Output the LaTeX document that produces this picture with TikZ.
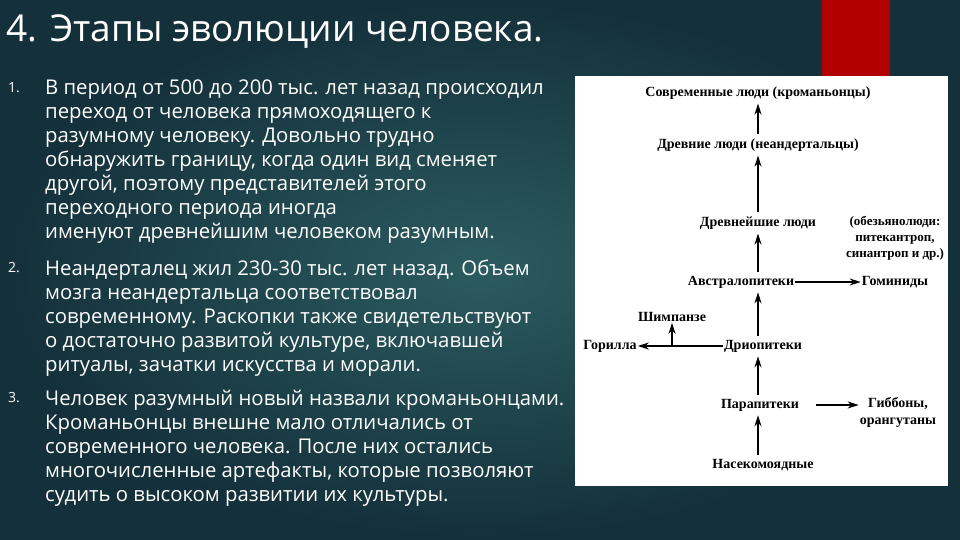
\documentclass[tikz,border=0pt]{standalone}
\usepackage{fontspec}
\setmainfont{Open Sans}
\newfontfamily\dserif{Liberation Serif}
\usetikzlibrary{arrows.meta}
\begin{document}
\begin{tikzpicture}[x=1pt,y=1pt,
  dlab/.style={font=\dserif\bfseries\fontsize{14}{16}\selectfont,inner sep=1pt,align=center},
  para/.style={anchor=north west,text=white,font=\fontsize{20.3}{24}\selectfont,align=left,inner sep=0pt},
  num/.style={anchor=north west,text=white,font=\fontsize{14}{24}\selectfont,inner sep=0pt},
  arr/.style={-{Stealth[length=11pt,width=7pt]},line width=1.3pt},
  varr/.style={arr,shorten >=3pt,shorten <=3pt}]
\definecolor{bgin}{HTML}{2B5B60}
\definecolor{bgout}{HTML}{14303A}
\shade[inner color=bgin,outer color=bgout] (0,0) rectangle (960,-540);
\useasboundingbox (0,0) rectangle (960,-540);
\fill[white] (575,-76) rectangle (948,-486);
\fill[red!70!black] (822,0) rectangle (890,-76);
\node[anchor=west,text=white,font=\fontsize{37}{40}\selectfont,inner sep=0pt] (title) at (6,-32) {4. Этапы эволюции человека.};
\node[num] (n1) at (8,-82) {1.};
\node[para] (p1) at (45,-80) {В период от 500 до 200 тыс. лет назад происходил\\переход от человека прямоходящего к\\разумному человеку. Довольно трудно\\обнаружить границу, когда один вид сменяет\\другой, поэтому представителей этого\\переходного периода иногда\\именуют древнейшим человеком разумным.};
\node[num] (n2) at (8,-262) {2.};
\node[para] (p2) at (45,-260) {Неандерталец жил 230-30 тыс. лет назад. Объем\\мозга неандертальца соответствовал\\современному. Раскопки также свидетельствуют\\о достаточно развитой культуре, включавшей\\ритуалы, зачатки искусства и морали.};
\node[num] (n3) at (8,-392) {3.};
\node[para] (p3) at (45,-390) {Человек разумный новый назвали кроманьонцами.\\Кроманьонцы внешне мало отличались от\\современного человека. После них остались\\многочисленные артефакты, которые позволяют\\судить о высоком развитии их культуры.};
\node[dlab] (mod) at (758,-93) {Современные люди (кроманьонцы)};
\node[dlab] (anc) at (758,-145) {Древние люди (неандертальцы)};
\node[dlab] (old) at (758,-223) {Древнейшие люди};
\node[dlab,font=\dserif\bfseries\fontsize{13}{16}\selectfont] (ape) at (895,-238) {(обезьянолюди:\\питекантроп,\\синантроп и др.)};
\node[dlab] (aus) at (741,-282) {Австралопитеки};
\node[dlab] (hom) at (895,-282) {Гоминиды};
\node[dlab] (chi) at (672,-317) {Шимпанзе};
\node[dlab] (gor) at (610,-346) {Горилла};
\node[dlab] (dry) at (763,-346) {Дриопитеки};
\node[dlab] (par) at (760,-405) {Парапитеки};
\node[dlab,font=\dserif\bfseries\fontsize{14}{17}\selectfont] (gib) at (898,-412) {Гиббоны,\\орангутаны};
\node[dlab] (ins) at (763,-465) {Насекомоядные};
\coordinate (jn) at (672,-346);
\coordinate (pe) at (816,-405);
\draw[varr] (ins.north-|758,0) -- (par.south-|758,0);
\draw[varr] (par.north-|758,0) -- (dry.south-|758,0);
\draw[varr] (dry.north-|758,0) -- (aus.south-|758,0);
\draw[varr] (aus.north-|758,0) -- (old.south-|758,0);
\draw[varr] (old) -- (anc);
\draw[varr] (anc) -- (mod);
\draw[arr] (aus) -- (hom);
\draw[arr] (pe) -- (pe-|gib.west);
\draw[arr] (dry) -- (gor);
\draw[arr] (jn) -- (chi);
\end{tikzpicture}
\end{document}
